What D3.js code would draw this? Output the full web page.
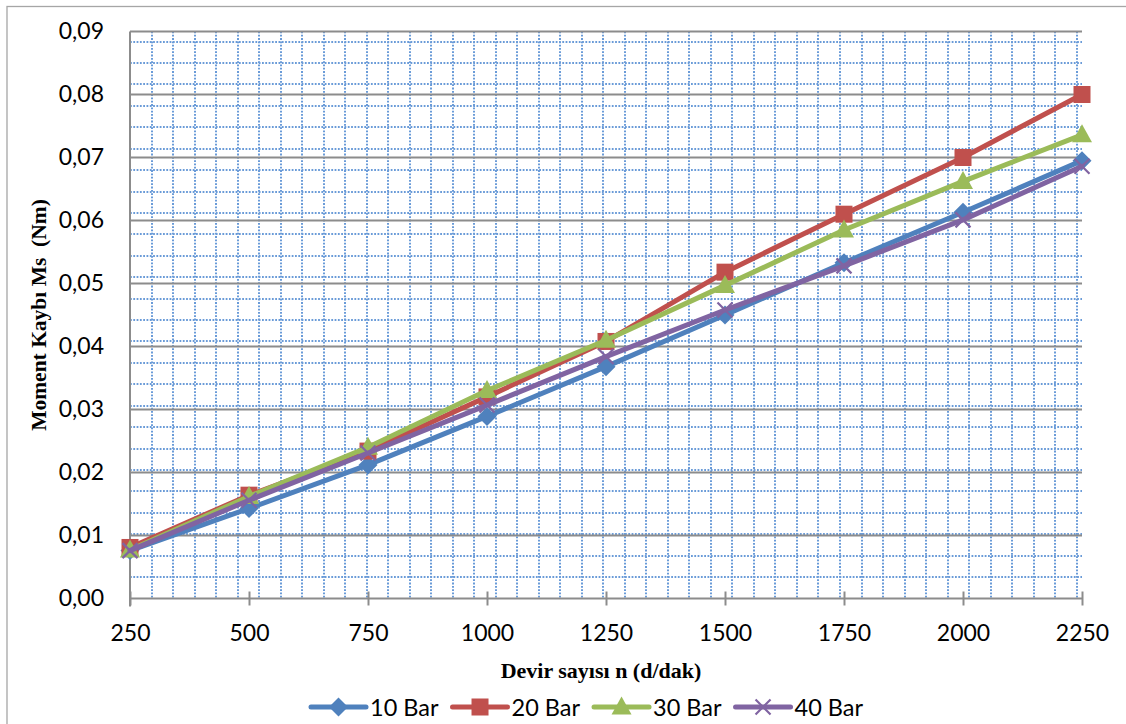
<!DOCTYPE html>
<html><head><meta charset="utf-8">
<script src="https://cdn.jsdelivr.net/npm/d3@7"></script>
<style>body{margin:0;background:#fff}svg{display:block}</style>
</head><body>
<svg id="c" width="1126" height="724"></svg>
<script>
const rpm = [250, 500, 750, 1000, 1250, 1500, 1750, 2000, 2250];
const bar10 = [0.0076, 0.0143, 0.0212, 0.0289, 0.0368, 0.0450, 0.0533, 0.0613, 0.0695];
const bar20 = [0.0081, 0.0164, 0.0234, 0.0320, 0.0408, 0.0518, 0.0610, 0.0700, 0.0800];
const bar30 = [0.0077, 0.0162, 0.0240, 0.0330, 0.0410, 0.0497, 0.0585, 0.0662, 0.0736];
const bar40 = [0.0076, 0.0156, 0.0231, 0.0307, 0.0384, 0.0458, 0.0528, 0.0601, 0.0686];
const seriesNames = ["10 Bar", "20 Bar", "30 Bar", "40 Bar"];
const yTicks = [0, 0.01, 0.02, 0.03, 0.04, 0.05, 0.06, 0.07, 0.08, 0.09];
const xTicks = [250, 500, 750, 1000, 1250, 1500, 1750, 2000, 2250];
const yTitle = "Moment Kaybı Ms\u00a0 (Nm)";
const xTitle = "Devir sayısı n (d/dak)";

const colors = ["#4F81BD", "#C0504D", "#9BBB59", "#8064A2"];
const markers = ["diamond", "square", "triangle", "cross"];
const data = [bar10, bar20, bar30, bar40];

const svg = d3.select("#c");
const L = 130, R = 1082, T = 31.5, B = 598.5;
const x = d3.scaleLinear().domain([250, 2250]).range([L, R]);
const y = d3.scaleLinear().domain([0, 0.09]).range([B, T]);
const FONT = "Lato, 'Open Sans', sans-serif";
const SERIF = "'Liberation Serif', 'Times New Roman', serif";

// outer chart border
svg.append("rect").attr("x", 7).attr("y", 6.5).attr("width", 1140).attr("height", 740)
  .attr("fill", "none").attr("stroke", "#a6a6a6").attr("stroke-width", 1.3);

// minor dotted grid
const yMinor = d3.range(1, 27).map(k => k * 0.0034);
const xMinor = d3.range(1, 45).map(k => 250 + k * 45.2).filter(v => v < 2250);
const g = svg.append("g");
g.selectAll("line.hm").data(yMinor).join("line")
  .attr("x1", L).attr("x2", R).attr("y1", d => Math.round(y(d))).attr("y2", d => Math.round(y(d)))
  .attr("stroke", "#6a9bd8").attr("stroke-width", 2).attr("stroke-dasharray", "1.8 1.5");
g.selectAll("line.vm").data(xMinor).join("line")
  .attr("y1", T).attr("y2", B).attr("x1", d => Math.round(x(d))).attr("x2", d => Math.round(x(d)))
  .attr("stroke", "#6a9bd8").attr("stroke-width", 2).attr("stroke-dasharray", "1.8 1.5");

// major horizontal grid
g.selectAll("line.hM").data(yTicks.slice(1)).join("line")
  .attr("x1", L).attr("x2", R).attr("y1", d => y(d)).attr("y2", d => y(d))
  .attr("stroke", "#8c8c8c").attr("stroke-width", 2);

// y axis
const yAxis = d3.axisLeft(y).tickValues(yTicks).tickSize(0).tickPadding(26)
  .tickFormat(d => d3.format(".2f")(d).replace(".", ","));
const ya = svg.append("g").attr("transform", `translate(${L},0)`).call(yAxis);
ya.select(".domain").attr("stroke", "#8c8c8c").attr("stroke-width", 2).attr("d", `M0,${T}V${B + 8}`);
ya.selectAll("text").attr("font-family", FONT).attr("font-size", 23).attr("fill", "#000");

// x axis
const xAxis = d3.axisBottom(x).tickValues(xTicks).tickSize(8).tickPadding(18).tickFormat(d3.format("d"));
const xa = svg.append("g").attr("transform", `translate(0,${B})`).call(xAxis);
xa.select(".domain").attr("stroke", "#8c8c8c").attr("stroke-width", 2).attr("d", `M${L},0H${R}`);
xa.selectAll(".tick line").attr("stroke", "#8c8c8c").attr("stroke-width", 2).attr("y1", -7).attr("y2", 7);
xa.selectAll("text").attr("font-family", FONT).attr("font-size", 23).attr("fill", "#000");

// titles
svg.append("text").attr("transform", "translate(46,315) rotate(-90)").attr("text-anchor", "middle")
  .attr("font-family", SERIF).attr("font-weight", "bold").attr("font-size", 21.5).text(yTitle);
svg.append("text").attr("x", 601).attr("y", 678).attr("text-anchor", "middle")
  .attr("font-family", SERIF).attr("font-weight", "bold").attr("font-size", 22).text(xTitle);

// marker drawing
function drawMarker(sel, type, color) {
  if (type === "diamond") {
    sel.append("path").attr("d", "M0,-9.5L9.5,0L0,9.5L-9.5,0Z").attr("fill", color);
  } else if (type === "square") {
    sel.append("rect").attr("x", -8.5).attr("y", -8.5).attr("width", 17).attr("height", 17).attr("fill", color);
  } else if (type === "triangle") {
    sel.append("path").attr("d", "M0,-10.5L10,7.5L-10,7.5Z").attr("fill", color);
  } else {
    sel.append("path").attr("d", "M-7.5,-7.5L7.5,7.5M-7.5,7.5L7.5,-7.5").attr("stroke", color).attr("stroke-width", 2.2).attr("fill", "none");
  }
}

// series
const line = d3.line().x((d, i) => x(rpm[i])).y(d => y(d));
data.forEach((vals, si) => {
  const sg = svg.append("g");
  sg.append("path").datum(vals).attr("d", line).attr("fill", "none")
    .attr("stroke", colors[si]).attr("stroke-width", 5).attr("stroke-linejoin", "round").attr("stroke-linecap", "round");
  vals.forEach((v, i) => {
    const m = sg.append("g").attr("transform", `translate(${x(rpm[i])},${y(v)})`);
    drawMarker(m, markers[si], colors[si]);
  });
});

// legend
const lg = svg.append("g");
let lx = 311;
const ly = 707;
seriesNames.forEach((name, si) => {
  const it = lg.append("g");
  it.append("line").attr("x1", lx).attr("x2", lx + 55).attr("y1", ly).attr("y2", ly)
    .attr("stroke", colors[si]).attr("stroke-width", 5).attr("stroke-linecap", "round");
  const m = it.append("g").attr("transform", `translate(${lx + 27.5},${ly})`);
  drawMarker(m, markers[si], colors[si]);
  const t = it.append("text").attr("x", lx + 59).attr("y", ly + 8.5)
    .attr("font-family", FONT).attr("font-size", 23.5).text(name);
  lx += 59 + t.node().getComputedTextLength() + 14;
});
</script>
</body></html>
